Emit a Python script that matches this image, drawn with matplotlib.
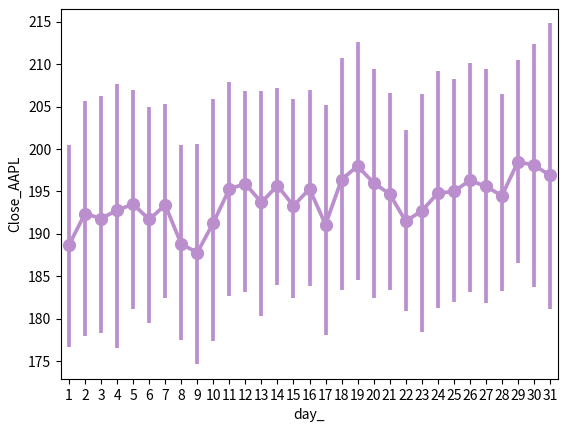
import matplotlib
matplotlib.use("Agg")
import matplotlib.pyplot as plt
import numpy as np

plt.rcParams['font.family'] = ['Noto Sans CJK KR', 'DejaVu Sans']

days = list(range(1, 32))
mean_close = [188.7, 192.4, 191.8, 192.8, 193.5, 191.7, 193.4, 188.8, 187.8, 191.3,
              195.3, 195.9, 193.7, 195.7, 193.3, 195.3, 191.1, 196.4, 198.0, 196.0,
              194.7, 191.5, 192.7, 194.8, 195.0, 196.3, 195.6, 194.5, 198.5, 198.1,
              196.9]
ci_low = [176.7, 178.0, 178.3, 176.6, 181.2, 179.5, 182.4, 177.5, 174.7, 177.4,
          182.7, 183.1, 180.3, 184.0, 182.5, 183.9, 178.1, 183.4, 184.6, 182.5,
          183.4, 180.9, 178.4, 181.3, 182.0, 183.2, 181.9, 183.3, 186.6, 183.7,
          181.1]
ci_high = [200.5, 205.7, 206.3, 207.7, 207.0, 205.0, 205.3, 200.5, 200.6, 205.9,
           207.9, 206.8, 206.8, 207.2, 205.9, 207.0, 205.2, 210.7, 212.6, 209.4,
           206.6, 202.3, 206.5, 209.2, 208.2, 210.1, 209.4, 206.5, 210.5, 212.4,
           214.8]

color = '#bb8fce'
x = np.arange(len(days))

fig = plt.figure(figsize=(5.67, 4.3), dpi=100)
ax = fig.add_axes([61 / 567, 1 - 379 / 430, (558 - 61) / 567, (379 - 9) / 430])

# confidence interval bars
for xi, lo, hi in zip(x, ci_low, ci_high):
    ax.plot([xi, xi], [lo, hi], color=color, lw=2.7, solid_capstyle='butt')
ax.plot(x, mean_close, color=color, lw=2.7, marker='o', markersize=8.5)

ax.set_xticks(x)
ax.set_xticklabels([str(d) for d in days])
ax.set_xlim(-0.5, 30.5)
ax.set_ylim(172.9, 216.5)
ax.set_yticks([175, 180, 185, 190, 195, 200, 205, 210, 215])
ax.set_xlabel('day_')
ax.set_ylabel('Close_AAPL')

fig.savefig('out.png', dpi=100)
